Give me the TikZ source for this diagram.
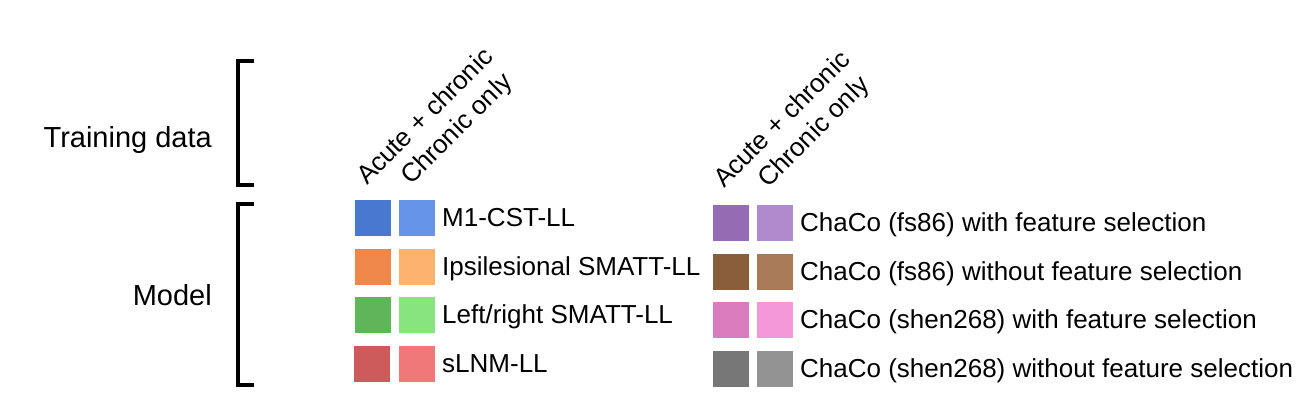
\documentclass[tikz,border=0pt]{standalone}
\usepackage{fontspec}
\setmainfont{Liberation Sans}
\definecolor{blueA}{HTML}{4878CF}
\definecolor{blueB}{HTML}{6594E8}
\definecolor{orangeA}{HTML}{F0874A}
\definecolor{orangeB}{HTML}{FDB36F}
\definecolor{greenA}{HTML}{60B55B}
\definecolor{greenB}{HTML}{87E47E}
\definecolor{redA}{HTML}{CD5B5B}
\definecolor{redB}{HTML}{F07879}
\definecolor{purpleA}{HTML}{956CB4}
\definecolor{purpleB}{HTML}{B08ACD}
\definecolor{brownA}{HTML}{8B5E3B}
\definecolor{brownB}{HTML}{A87A57}
\definecolor{pinkA}{HTML}{DA7BBD}
\definecolor{pinkB}{HTML}{F598D9}
\definecolor{grayA}{HTML}{777777}
\definecolor{grayB}{HTML}{939393}
\tikzset{
  sq/.style={rectangle, minimum size=36pt, inner sep=0pt},
  lab/.style={anchor=base west, inner sep=0pt, font=\fontsize{26}{30}\selectfont},
  collab/.style={anchor=base west, inner sep=0pt, rotate=45, font=\fontsize{26}{30}\selectfont},
  grouplab/.style={anchor=base east, inner sep=0pt, font=\fontsize{29}{34}\selectfont},
  bracket/.style={line width=4pt}
}
\begin{document}
\begin{tikzpicture}[x=1pt,y=-1pt]
\useasboundingbox (0,0) rectangle (1300,400);
% group labels and brackets
\node[grouplab] (train) at (212,147){Training data};
\node[grouplab] (model) at (212,305){Model};
\draw[bracket] (254,61) -| (238,185) -- (254,185);
\draw[bracket] (254,203.5) -| (238,384.5) -- (254,384.5);
% column headers
\node[collab] (acl) at (367,186){Acute + chronic};
\node[collab] (chl) at (411,186){Chronic only};
\node[collab] (acr) at (724,189){Acute + chronic};
\node[collab] (chr) at (768,189){Chronic only};
% left legend
\node[sq, fill=blueA] (sq1a) at (373,218){};
\node[sq, fill=blueB] (sq1b) at (417,218){};
\node[lab] (lab1) at (442,226.5){M1-CST-LL};
\node[sq, fill=orangeA] (sq2a) at (373,267){};
\node[sq, fill=orangeB] (sq2b) at (417,267){};
\node[lab] (lab2) at (442,275.5){Ipsilesional SMATT-LL};
\node[sq, fill=greenA] (sq3a) at (373,315){};
\node[sq, fill=greenB] (sq3b) at (417,315){};
\node[lab] (lab3) at (442,323.5){Left/right SMATT-LL};
\node[sq, fill=redA] (sq4a) at (372,364){};
\node[sq, fill=redB] (sq4b) at (417,364){};
\node[lab] (lab4) at (442,372.5){sLNM-LL};
% right legend
\node[sq, fill=purpleA] (sq5a) at (731,223){};
\node[sq, fill=purpleB] (sq5b) at (775,223){};
\node[lab] (lab5) at (800,231.5){ChaCo (fs86) with feature selection};
\node[sq, fill=brownA] (sq6a) at (731,272){};
\node[sq, fill=brownB] (sq6b) at (775,272){};
\node[lab] (lab6) at (800,280.5){ChaCo (fs86) without feature selection};
\node[sq, fill=pinkA] (sq7a) at (731,320){};
\node[sq, fill=pinkB] (sq7b) at (775,320){};
\node[lab] (lab7) at (800,328.5){ChaCo (shen268) with feature selection};
\node[sq, fill=grayA] (sq8a) at (731,369){};
\node[sq, fill=grayB] (sq8b) at (775,369){};
\node[lab] (lab8) at (800,377.5){ChaCo (shen268) without feature selection};
\end{tikzpicture}
\end{document}
